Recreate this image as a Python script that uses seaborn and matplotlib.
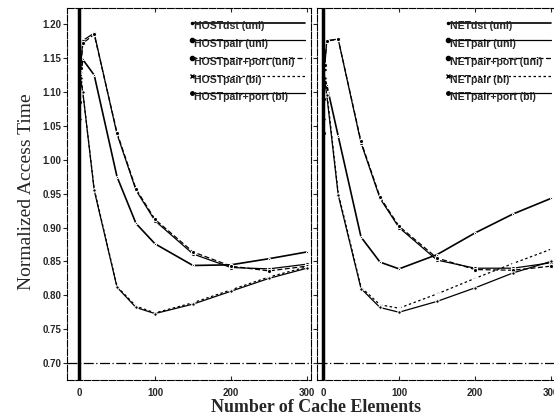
import matplotlib
matplotlib.use("Agg")
import matplotlib.pyplot as plt
from matplotlib.lines import Line2D
import seaborn as sns
import pandas as pd

# ---------------- data ----------------
cache_elements = [1, 2, 5, 20, 50, 75, 100, 150, 200, 250, 300]

host_dst_uni      = [1.100, 1.125, 1.148, 1.125, 0.975, 0.906, 0.876, 0.844, 0.845, 0.854, 0.864]
host_pair_uni     = [1.085, 1.135, 1.176, 1.187, 1.038, 0.955, 0.910, 0.861, 0.841, 0.839, 0.846]
host_pairport_uni = [1.110, 1.130, 1.172, 1.185, 1.040, 0.957, 0.912, 0.864, 0.843, 0.836, 0.843]
host_pair_bi      = [1.040, 1.130, 1.100, 0.957, 0.813, 0.784, 0.774, 0.789, 0.808, 0.827, 0.842]
host_pairport_bi  = [1.060, 1.120, 1.100, 0.955, 0.812, 0.782, 0.773, 0.787, 0.806, 0.825, 0.840]

net_dst_uni       = [1.090, 1.120, 1.110, 1.035, 0.886, 0.849, 0.839, 0.860, 0.892, 0.920, 0.943]
net_pair_uni      = [1.040, 1.133, 1.176, 1.178, 1.025, 0.943, 0.900, 0.852, 0.840, 0.840, 0.848]
net_pairport_uni  = [1.090, 1.140, 1.175, 1.178, 1.027, 0.945, 0.902, 0.855, 0.838, 0.837, 0.843]
net_pair_bi       = [1.100, 1.130, 1.100, 0.951, 0.812, 0.786, 0.781, 0.802, 0.825, 0.847, 0.868]
net_pairport_bi   = [1.060, 1.120, 1.095, 0.948, 0.810, 0.782, 0.775, 0.791, 0.811, 0.833, 0.850]

host_labels = ["HOSTdst (uni)", "HOSTpair (uni)", "HOSTpair+port (uni)", "HOSTpair (bi)", "HOSTpair+port (bi)"]
net_labels = ["NETdst (uni)", "NETpair (uni)", "NETpair+port (uni)", "NETpair (bi)", "NETpair+port (bi)"]

y_ticks = [0.70, 0.75, 0.80, 0.85, 0.90, 0.95, 1.00, 1.05, 1.10, 1.15, 1.20]
x_ticks = [0, 100, 200, 300]
y_title = "Normalized Access Time"
x_title = "Number of Cache Elements"

# ---------------- style ----------------
sns.set_style("ticks")
sans = ["Liberation Sans", "DejaVu Sans"]
serif = ["Liberation Serif", "DejaVu Serif"]
plt.rcParams["font.family"] = sans

series_styles = [
    dict(linestyle="-", marker=".", markersize=3, linewidth=1.2),
    dict(linestyle="-", marker="o", markersize=3, linewidth=0.9),
    dict(linestyle=(0, (4, 2)), marker="o", markersize=3, linewidth=0.9),
    dict(linestyle=(0, (2, 2)), marker="x", markersize=3.5, linewidth=0.9, markeredgewidth=0.9),
    dict(linestyle="-", marker="o", markersize=2.5, linewidth=0.9),
]

fig = plt.figure(figsize=(5.54, 4.18), dpi=100)
W, H = 554, 418
ax1 = fig.add_axes([67 / W, 38 / H, 244 / W, 372 / H])
ax2 = fig.add_axes([317 / W, 38 / H, 240 / W, 372 / H])

panels = [
    (ax1, [host_dst_uni, host_pair_uni, host_pairport_uni, host_pair_bi, host_pairport_bi], host_labels,
     (-15.8, 305.3), 0.511, 0.975),
    (ax2, [net_dst_uni, net_pair_uni, net_pairport_uni, net_pair_bi, net_pairport_bi], net_labels,
     (-7.9, 307.9), 0.547, 0.975),
]

legend_y = [0.961, 0.914, 0.866, 0.818, 0.771]

for ax, series, labels, xlim, lx0, lx1 in panels:
    for vals, lab, st in zip(series, labels, series_styles):
        df = pd.DataFrame({"x": cache_elements, "y": vals})
        sns.lineplot(data=df, x="x", y="y", ax=ax, color="black", legend=False, **st)
    ax.axvline(0, color="black", linewidth=2.5, zorder=5)
    ax.axhline(0.70, color="black", linewidth=0.9, linestyle=(0, (8, 2, 1, 2)))
    ax.set_xlim(*xlim)
    ax.set_ylim(0.675, 1.224)
    ax.set_xlabel("")
    ax.set_ylabel("")
    ax.set_xticks(x_ticks)
    ax.set_yticks(y_ticks)
    ax.tick_params(axis="x", direction="in", top=True, bottom=True, length=3, width=0.8,
                   labelsize=7, pad=6)
    ax.tick_params(axis="y", direction="out", left=True, right=False, length=3, width=0.8,
                   labelsize=7, pad=1)
    for lbl in ax.get_xticklabels() + ax.get_yticklabels():
        lbl.set_fontweight("bold")
    for sp in ax.spines.values():
        sp.set_visible(True)
        sp.set_linewidth(0.8)
        sp.set_linestyle((0, (6, 1.5)))
        sp.set_color("black")
    # legend drawn as line samples above labels
    for yy, lab, st in zip(legend_y, labels, series_styles):
        ln = Line2D([lx0, lx1], [yy, yy], transform=ax.transAxes, color="black",
                    linestyle=st["linestyle"], linewidth=st["linewidth"],
                    marker=st["marker"], markersize=st["markersize"], markevery=[0])
        ax.add_line(ln)
        ax.text(lx0 + 0.008, yy + 0.003, lab, transform=ax.transAxes, ha="left", va="top",
                fontsize=7.6, fontweight="bold", family=sans)

ax1.set_yticklabels([f"{v:.2f}" for v in y_ticks])
ax2.set_yticklabels([])

fig.text(27 / W, 1 - 192 / H, y_title, rotation=90, ha="center", va="center",
         fontsize=14, family=serif)
fig.text(316 / W, 1 - 407 / H, x_title, ha="center", va="center",
         fontsize=12.9, fontweight="bold", family=serif)

fig.savefig("out.png", dpi=100)
